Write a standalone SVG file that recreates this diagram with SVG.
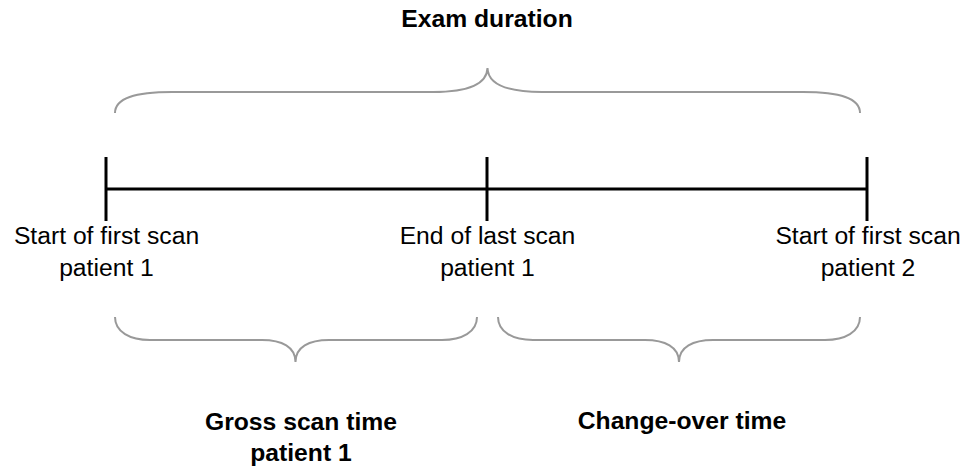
<svg xmlns="http://www.w3.org/2000/svg" width="966" height="468" viewBox="0 0 966 468">
  <style>
    .axis { stroke: #000; stroke-width: 3; fill: none; }
    .brace { stroke: #999; stroke-width: 2; fill: none; }
    .label { font-family: "Liberation Sans", Arial, sans-serif; font-size: 24.7px; fill: #000; text-anchor: middle; }
    .title { font-family: "Liberation Sans", Arial, sans-serif; font-size: 24.7px; font-weight: bold; fill: #000; text-anchor: middle; }
  </style>
  <rect width="966" height="468" fill="#fff"/>

  <!-- timeline axis and tick marks -->
  <g id="connectors">
    <line class="axis" x1="106" y1="189" x2="867" y2="189"/>
  </g>

  <g id="tick-start-p1">
    <line class="axis" x1="106" y1="157" x2="106" y2="221"/>
    <text class="label" x="106.5" y="244">Start of first scan</text>
    <text class="label" x="106.5" y="276">patient 1</text>
  </g>

  <g id="tick-end-p1">
    <line class="axis" x1="487" y1="157" x2="487" y2="221"/>
    <text class="label" x="487.5" y="244">End of last scan</text>
    <text class="label" x="487.5" y="276">patient 1</text>
  </g>

  <g id="tick-start-p2">
    <line class="axis" x1="867" y1="157" x2="867" y2="221"/>
    <text class="label" x="868" y="244">Start of first scan</text>
    <text class="label" x="868" y="276">patient 2</text>
  </g>

  <!-- exam duration brace -->
  <g id="exam-duration">
    <path class="brace" d="M115,113 C115,98 135,92 172,92 L433,92 C466,92 487,85 487.5,68 C488,85 509,92 542,92 L803,92 C840,92 860,98 860,113"/>
    <text class="title" x="487" y="27">Exam duration</text>
  </g>

  <!-- gross scan time brace -->
  <g id="gross-scan-time">
    <path class="brace" d="M115,317 C115,332 130,340 150,340 L262,340 C282,340 295.5,347 295.5,362 C295.5,347 309,340 329,340 L442,340 C462,340 477,332 477,317"/>
    <text class="title" x="301" y="430">Gross scan time</text>
    <text class="title" x="301" y="461">patient 1</text>
  </g>

  <!-- change-over time brace -->
  <g id="change-over-time">
    <path class="brace" d="M498,317 C498,332 513,340 533,340 L645,340 C665,340 679,347 679,362 C679,347 693,340 713,340 L825,340 C845,340 860,332 860,317"/>
    <text class="title" x="682" y="429">Change-over time</text>
  </g>
</svg>
